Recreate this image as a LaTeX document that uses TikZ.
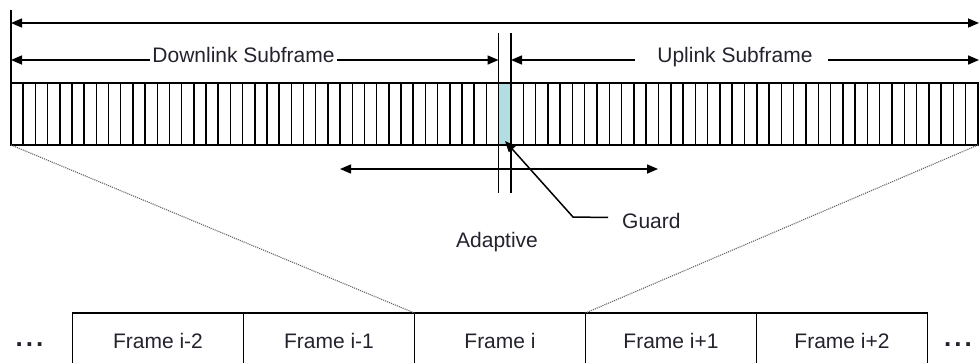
\documentclass[tikz,border=0pt]{standalone}
\usepackage{fontspec}
\setmainfont{Liberation Sans}
\usetikzlibrary{arrows.meta,positioning}
\definecolor{guardcyan}{RGB}{178,221,226}
\definecolor{txtgray}{RGB}{35,35,45}
\tikzset{
    dim/.style={line width=1.5pt,-{Triangle[length=11pt,width=9pt]}},
    dimboth/.style={line width=1.5pt,{Triangle[length=11pt,width=9pt]}-{Triangle[length=11pt,width=9pt]}},
    slotline/.style={line width=1.5pt},
    zoomline/.style={line width=1.1pt,gray!80!black,densely dotted},
    lbl/.style={inner sep=0pt,text=txtgray,font=\fontsize{21}{25}\selectfont},
    frm/.style={lbl,draw=black,line width=1.5pt,minimum width=171pt,minimum height=56pt,outer sep=0pt}
}
\begin{document}
\begin{tikzpicture}[x=1pt,y=-1pt] %Trama TDD con guarda adaptativa
            \useasboundingbox (0,0) rectangle (979,362);

            \coordinate (A) at (11,83);
            \coordinate (B) at (978,145);
            \coordinate (BL) at (11,145);
            \coordinate (G) at (498.5,83);
            \coordinate (H) at (511,145);

            \fill[guardcyan] (G) rectangle (H);
            \foreach \i in {1,...,39}
                \draw[slotline] ({11+\i*12.1875},83) -- ++(0,62);
            \foreach \i in {1,...,37}
                \draw[slotline] ({511+\i*12.29},83) -- ++(0,62);
            \draw[slotline] (A) rectangle (B);

            \coordinate (C) at (11,10);
            \coordinate (T1) at (11,23);
            \coordinate (T2) at (979,23);
            \draw[line width=1.5pt] (C) -- (A);
            \draw[dimboth] (T1) -- (T2);

            \coordinate (D1) at (11,60);
            \coordinate (D2) at (498.5,60);
            \node[lbl,anchor=mid,inner xsep=2.5pt] (dl) at (243.5,60) {Downlink Subframe};
            \draw[dim] (dl.mid west) -- (D1);
            \draw[dim] (dl.mid east) -- (D2);

            \coordinate (U1) at (511,60);
            \coordinate (U2) at (979,60);
            \node[lbl,anchor=mid] (ul) at (735,60) {Uplink Subframe};
            \draw[dim] ([xshift=-22pt]ul.mid west) -- (U1);
            \draw[dim] ([xshift=15pt]ul.mid east) -- (U2);

            \coordinate (V1) at (498.5,33);
            \coordinate (V2) at (498.5,193);
            \coordinate (V3) at (511,33);
            \coordinate (V4) at (511,193);
            \draw[line width=1.5pt] (V1) -- (V2);
            \draw[line width=1.5pt] (V3) -- (V4);

            \coordinate (E1) at (340,169);
            \coordinate (E2) at (658,169);
            \draw[dimboth] (E1) -- (E2);
            \node[lbl,anchor=base] (adp) at (497,247) {Adaptive};

            \coordinate (K) at (573,217);
            \coordinate (GP) at (505,141);
            \node[lbl,anchor=base west] (grd) at (622,228) {Guard};
            \draw[dim] ([xshift=-14pt,yshift=3pt]grd.west) -- (K) -- (GP);

            \node[frm] (f0) at (500,341) {Frame i};
            \node[frm,left=0pt of f0] (fm1) {Frame i-1};
            \node[frm,left=0pt of fm1] (fm2) {Frame i-2};
            \node[frm,right=0pt of f0] (fp1) {Frame i+1};
            \node[frm,right=0pt of fp1] (fp2) {Frame i+2};

            \node[lbl,anchor=base,font=\fontsize{26}{30}\selectfont\bfseries] (dotl) at (29.5,346) {.\hspace{3pt}.\hspace{3pt}.};
            \node[lbl,anchor=base,font=\fontsize{26}{30}\selectfont\bfseries] (dotr) at (958,346) {.\hspace{3pt}.\hspace{3pt}.};

            \draw[zoomline] (BL) -- (f0.north west);
            \draw[zoomline] (B) -- (f0.north east);
        \end{tikzpicture}
\end{document}
